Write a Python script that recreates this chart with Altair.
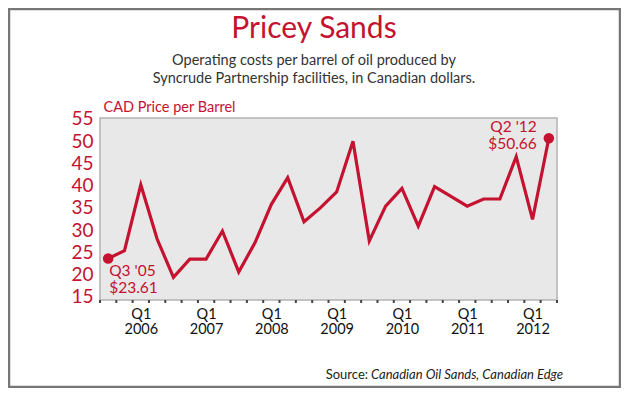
import altair as alt
import pandas as pd

# ---- data ----
quarters = ["Q3 '05", "Q4 '05",
            "Q1 '06", "Q2 '06", "Q3 '06", "Q4 '06",
            "Q1 '07", "Q2 '07", "Q3 '07", "Q4 '07",
            "Q1 '08", "Q2 '08", "Q3 '08", "Q4 '08",
            "Q1 '09", "Q2 '09", "Q3 '09", "Q4 '09",
            "Q1 '10", "Q2 '10", "Q3 '10", "Q4 '10",
            "Q1 '11", "Q2 '11", "Q3 '11", "Q4 '11",
            "Q1 '12", "Q2 '12"]
costs = [23.61, 25.4,
         40.2, 28.0, 19.4, 23.5,
         23.5, 29.8, 20.6, 27.2,
         35.8, 41.8, 31.9, 35.0,
         38.6, 50.0, 27.6, 35.4,
         39.4, 30.9, 39.8, 37.6,
         35.4, 37.0, 37.0, 46.5,
         32.4, 50.66]
years = [2006, 2007, 2008, 2009, 2010, 2011, 2012]
y_ticks = [15, 20, 25, 30, 35, 40, 45, 50, 55]

RED = "#c41230"
FONT = "Lato"

n = len(quarters)
df = pd.DataFrame({"q": quarters, "cost": costs, "t": [i + 0.5 for i in range(n)]})
df["label"] = ""
df.loc[0, "label"] = f"{quarters[0]}\n${costs[0]:.2f}"
df.loc[n - 1, "label"] = f"{quarters[-1]}\n${costs[-1]:.2f}"

label_pos = [quarters.index(f"Q1 '{str(y)[2:]}") + 0.5 for y in years]
expr = "''"
for p, y in reversed(list(zip(label_pos, years))):
    expr = f"datum.value == {p} ? ['Q1', '{y}'] : ({expr})"

ticks_df = pd.DataFrame({"t": list(range(n + 1))})

W, H = 457, 182
xscale = alt.Scale(domain=[0, n], nice=False, zero=False)
yscale = alt.Scale(domain=[14.3, 55.2], nice=False, zero=False)

base = alt.Chart(df)

line = base.mark_line(color=RED, strokeWidth=3.2).encode(
    x=alt.X("t:Q", scale=xscale,
            axis=alt.Axis(values=label_pos, tickCount=len(label_pos), labelExpr=expr,
                          ticks=False, domain=False,
                          grid=False, title=None, labelFont=FONT, labelFontSize=14.5,
                          labelColor="#111", labelPadding=7, labelBaseline="top",
                          labelLineHeight=15.5, labelFlush=False, labelOverlap=False)),
    y=alt.Y("cost:Q", scale=yscale,
            axis=alt.Axis(values=y_ticks, tickCount=len(y_ticks), ticks=False,
                          domain=False, grid=False,
                          labelFont=FONT, labelFontSize=19, labelColor=RED,
                          labelPadding=7, labelOverlap=False, labelFlush=False,
                          title="CAD Price per Barrel",
                          titleAngle=0, titleX=3, titleY=-7, titleAlign="left",
                          titleBaseline="alphabetic", titleFont=FONT,
                          titleFontSize=14.5, titleFontWeight="normal",
                          titleColor=RED)),
)

ends = base.transform_filter("datum.label != ''")
dots = ends.mark_circle(color=RED, size=110, opacity=1).encode(x="t:Q", y="cost:Q")

first_lbl = base.transform_filter("datum.t < 1").mark_text(
    align="left", baseline="top", dx=1, dy=5, lineBreak="\n", lineHeight=17,
    font=FONT, fontSize=15.5, color=RED).encode(x="t:Q", y="cost:Q", text="label:N")
last_lbl = base.transform_filter(f"datum.t > {n - 1}").mark_text(
    align="right", baseline="top", dx=-12, dy=-18, lineBreak="\n", lineHeight=17,
    font=FONT, fontSize=15.5, color=RED).encode(x="t:Q", y="cost:Q", text="label:N")

ticks = alt.Chart(ticks_df).mark_rule(color="#444", strokeWidth=2).encode(
    x="t:Q", y=alt.value(H), y2=alt.value(H + 3))

def txt(s, x, y, size, color="#333", align="center", style="normal"):
    return alt.Chart(pd.DataFrame({"s": [s]})).mark_text(
        align=align, baseline="alphabetic", font=FONT, fontSize=size,
        color=color, fontStyle=style).encode(
        x=alt.value(x), y=alt.value(y), text="s:N")

title = txt("Pricey Sands", 214, -80, 30, RED)
sub1 = txt("Operating costs per barrel of oil produced by", 214, -53, 14.5)
sub2 = txt("Syncrude Partnership facilities, in Canadian dollars.", 214, -35, 14.5)
src1 = txt("Source:", 268, 261, 13, "#222", "right")
src2 = txt("Canadian Oil Sands, Canadian Edge", 271, 261, 13, "#222", "left", "italic")

frame = alt.Chart(pd.DataFrame({"a": [0]})).mark_rect(
    fill=None, stroke="#777", strokeWidth=2.5).encode(
    x=alt.value(-91), x2=alt.value(520), y=alt.value(-109), y2=alt.value(269))

chart = alt.layer(frame, ticks, line, dots, first_lbl, last_lbl,
                  title, sub1, sub2, src1, src2).properties(
    width=W, height=H,
    autosize=alt.AutoSizeParams(type="none"),
    padding={"left": 92, "top": 110, "right": 64, "bottom": 88},
    background="white",
).configure_view(fill="#e8e8e8", stroke="#b3b3b3", strokeWidth=1.5)

chart.save("out.html", embed_options={"renderer": "svg", "actions": False})
